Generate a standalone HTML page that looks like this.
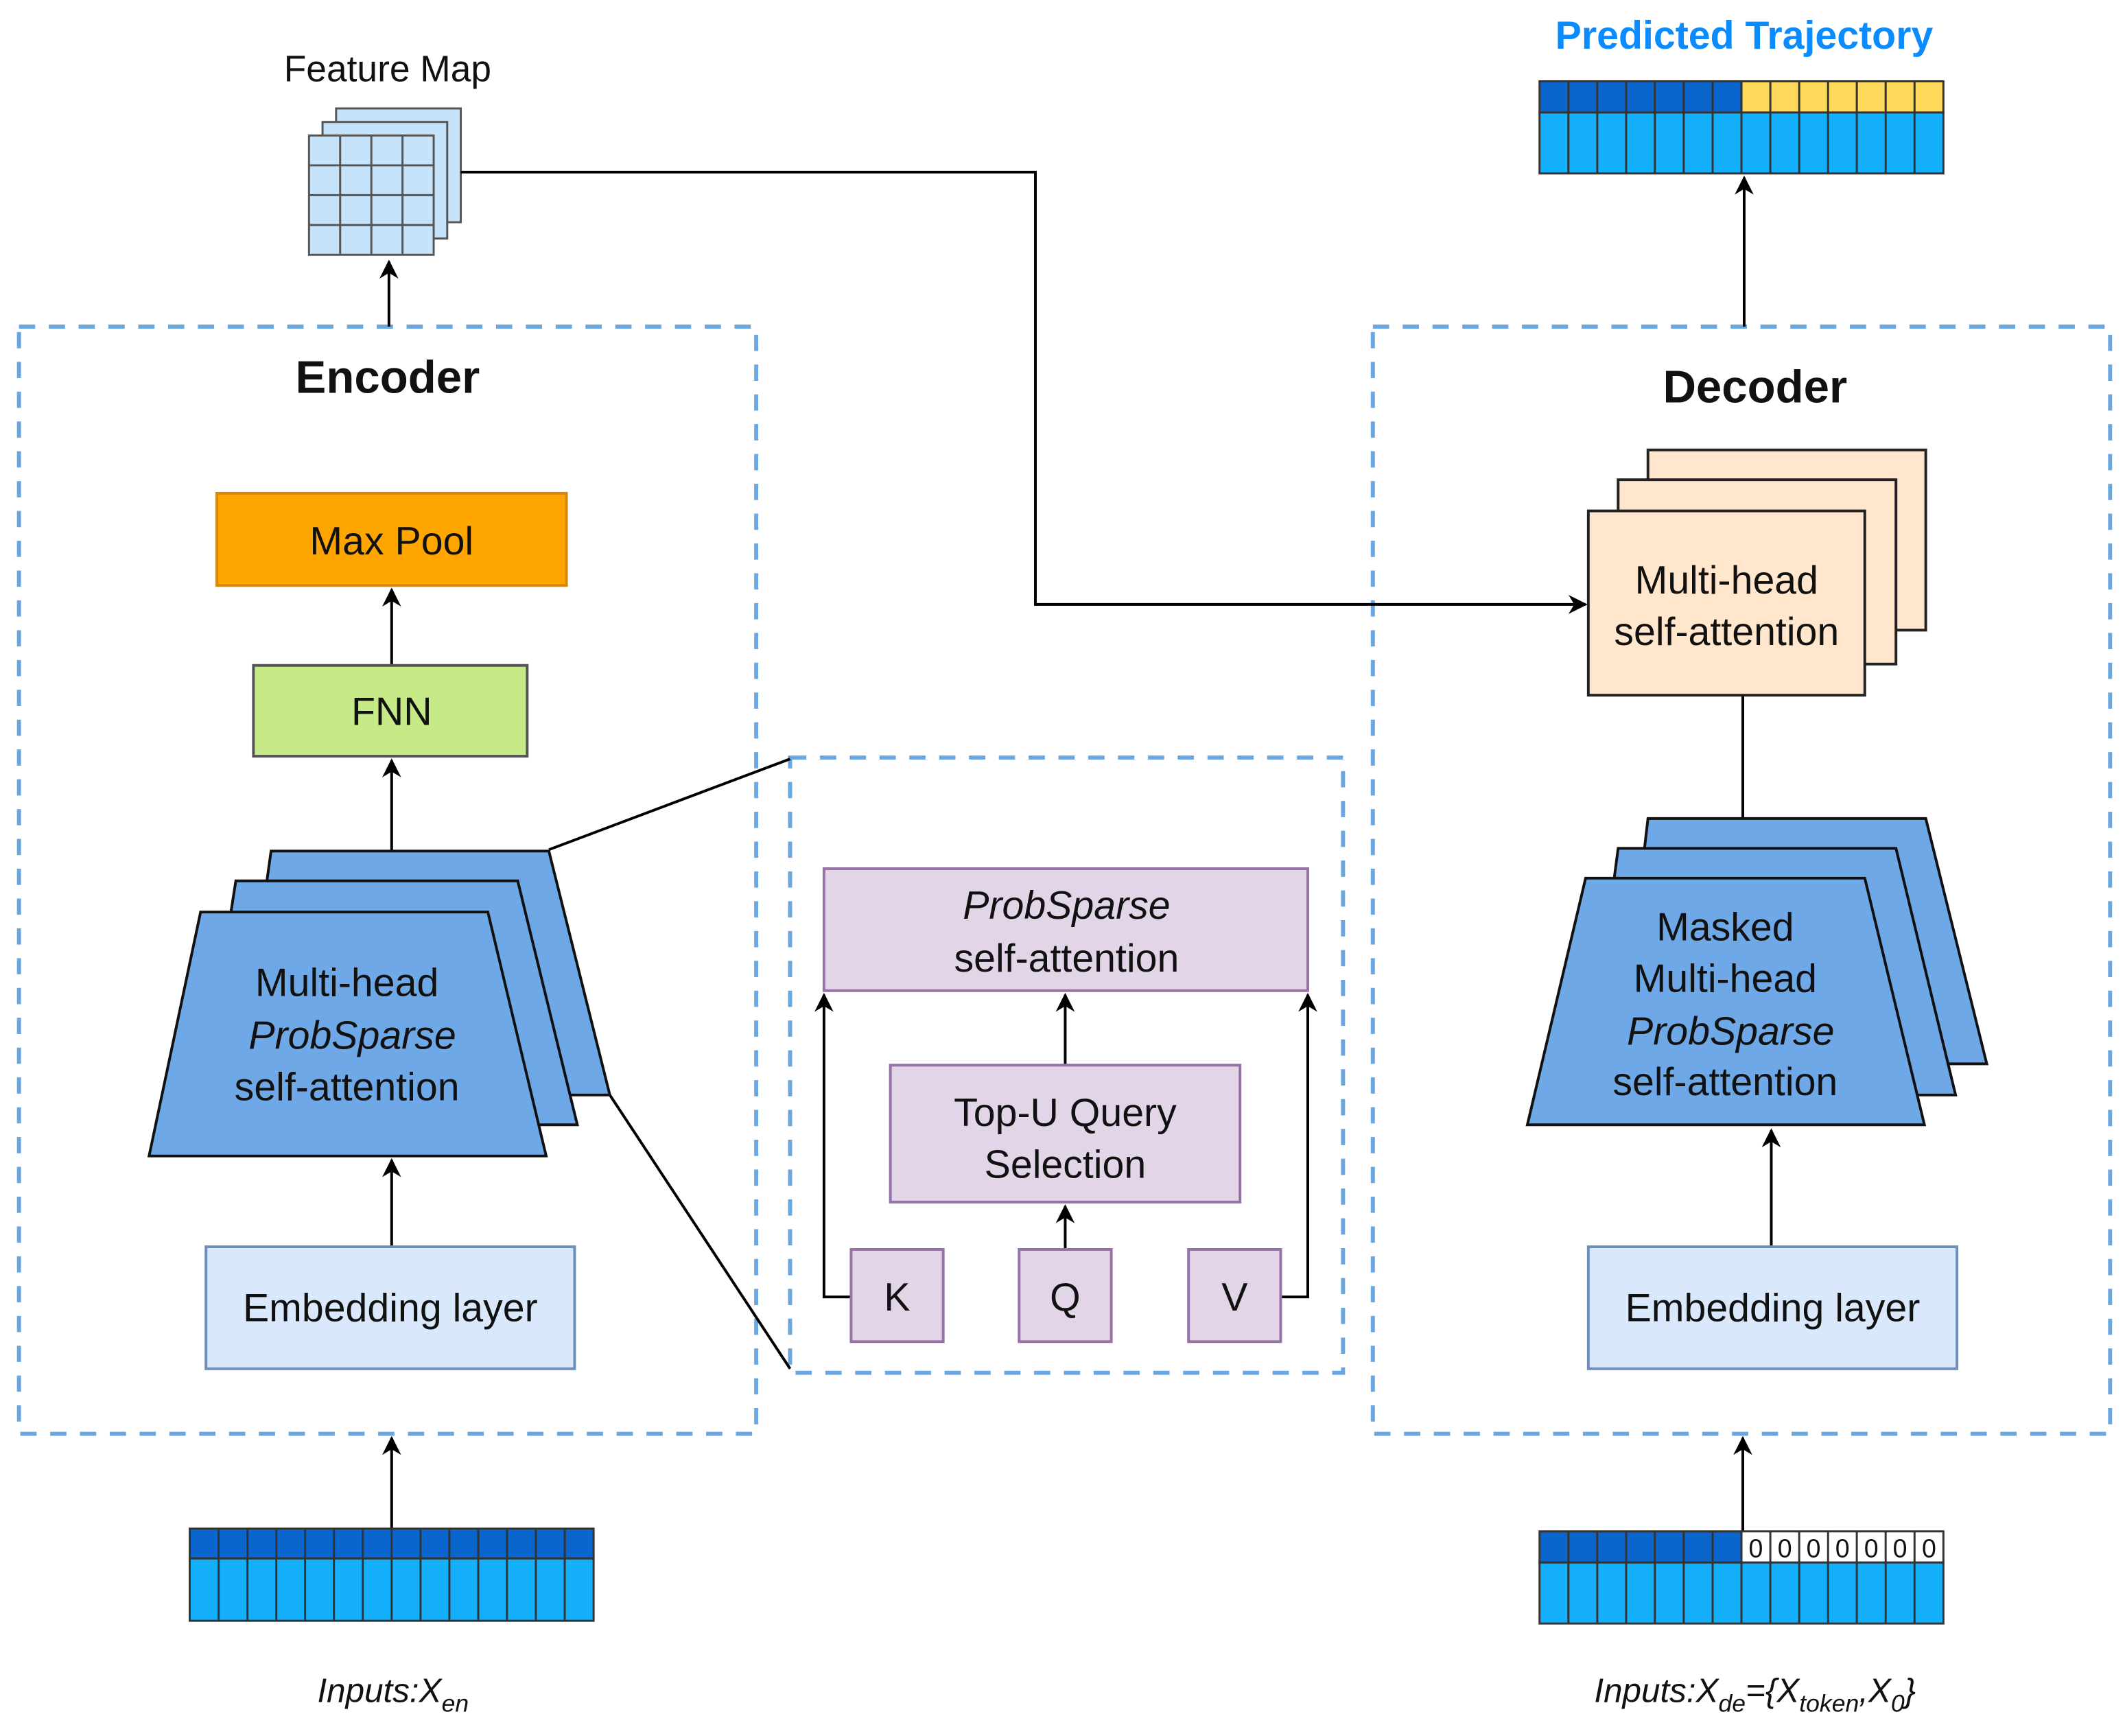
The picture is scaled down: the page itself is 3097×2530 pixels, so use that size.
<!DOCTYPE html>
<html><head><meta charset="utf-8"><style>
html,body{margin:0;padding:0;background:#fff;}
svg{display:block;}
text{font-family:"Liberation Sans",Arial,sans-serif;fill:#111;}
</style></head><body>
<svg width="3097" height="2530" viewBox="0 0 1568 1281" preserveAspectRatio="none" xmlns="http://www.w3.org/2000/svg">
<defs>
<marker id="ar" viewBox="0 0 10 10" refX="9" refY="5" markerWidth="7" markerHeight="7" orient="auto-start-reverse" markerUnits="userSpaceOnUse">
<path d="M0,0 L10,5 L0,10 L3,5 z" fill="#000"/>
</marker>
<marker id="ar2" viewBox="0 0 10 10" refX="9" refY="5" markerWidth="14" markerHeight="14" orient="auto" markerUnits="userSpaceOnUse">
<path d="M0,0 L10,5 L0,10 L3,5 z" fill="#000"/>
</marker>
</defs>
<rect width="1568" height="1281" fill="#fff"/>

<!-- dashed containers -->
<g fill="none" stroke="#6aa6e0" stroke-width="3" stroke-dasharray="12,10">
<rect x="14" y="241" width="544" height="817"/>
<rect x="583" y="559" width="408" height="454"/>
<rect x="1013" y="241" width="544" height="817"/>
</g>

<!-- Feature map -->
<text x="286" y="60" font-size="27" text-anchor="middle" fill="#222">Feature Map</text>
<g stroke="#555" stroke-width="1.5" fill="#c5e4fb">
<rect x="248" y="80" width="92" height="84"/>
<rect x="238" y="90" width="92" height="86"/>
<rect x="228" y="100" width="92" height="88"/>
<path d="M251,100 V188 M274,100 V188 M297,100 V188 M228,122 H320 M228,144 H320 M228,166 H320" fill="none"/>
</g>

<!-- connectors -->
<g stroke="#000" stroke-width="2" fill="none">
<path d="M340,127 H764 V446 H1170" marker-end="url(#ar2)"/>
<path d="M287,241 V193" marker-end="url(#ar2)"/>
<path d="M289,920 V856" marker-end="url(#ar2)"/>
<path d="M289,628 V561" marker-end="url(#ar2)"/>
<path d="M289,491 V435" marker-end="url(#ar2)"/>
<path d="M289,1128 V1061" marker-end="url(#ar2)"/>
<path d="M405,627 L583,560"/>
<path d="M450,808 L583,1010"/>
<path d="M628,957 H608 V734" marker-end="url(#ar2)"/>
<path d="M945,957 H965 V734" marker-end="url(#ar2)"/>
<path d="M786,922 V890" marker-end="url(#ar2)"/>
<path d="M786,786 V734" marker-end="url(#ar2)"/>
<path d="M1286,513 V604"/>
<path d="M1307,920 V834" marker-end="url(#ar2)"/>
<path d="M1286,1130 V1061" marker-end="url(#ar2)"/>
<path d="M1287,241 V131" marker-end="url(#ar2)"/>
</g>

<!-- Encoder -->
<text x="286" y="290" font-size="34" font-weight="bold" text-anchor="middle">Encoder</text>
<rect x="160" y="364" width="258" height="68" fill="#ffa500" stroke="#d9870a" stroke-width="2"/>
<text x="289" y="409" font-size="29" text-anchor="middle">Max Pool</text>
<rect x="187" y="491" width="202" height="67" fill="#c6ea88" stroke="#555" stroke-width="2"/>
<text x="289" y="535" font-size="29" text-anchor="middle">FNN</text>
<g fill="#6ea8e6" stroke="#111" stroke-width="2">
<polygon points="200,628 405,628 450,808 175,808"/>
<polygon points="174,650 382,650 426,830 146,830"/>
<polygon points="148,673 360,673 403,853 110,853"/>
</g>
<text x="256" y="735" font-size="29" text-anchor="middle">Multi-head</text>
<text x="260" y="774" font-size="29" text-anchor="middle" font-style="italic">ProbSparse</text>
<text x="256" y="812" font-size="29" text-anchor="middle">self-attention</text>
<rect x="152" y="920" width="272" height="90" fill="#dae8fc" stroke="#6c8ebf" stroke-width="2"/>
<text x="288" y="975" font-size="29" text-anchor="middle">Embedding layer</text>

<!-- encoder input -->
<g stroke="#333" stroke-width="1.5">
<rect x="140" y="1128" width="298" height="22" fill="#0a66cc"/>
<rect x="140" y="1150" width="298" height="46" fill="#15b0fb"/>
<path d="M161.3,1128 V1196 M182.6,1128 V1196 M203.9,1128 V1196 M225.1,1128 V1196 M246.4,1128 V1196 M267.7,1128 V1196 M289,1128 V1196 M310.3,1128 V1196 M331.6,1128 V1196 M352.9,1128 V1196 M374.1,1128 V1196 M395.4,1128 V1196 M416.7,1128 V1196"/>
</g>
<text x="290" y="1256" font-size="25" text-anchor="middle" font-style="italic" fill="#333">Inputs:X<tspan font-size="18" dy="7">en</tspan></text>

<!-- middle detail -->
<g fill="#e1d5e7" stroke="#9673a6" stroke-width="2">
<rect x="608" y="641" width="357" height="90"/>
<rect x="657" y="786" width="258" height="101"/>
<rect x="628" y="922" width="68" height="68"/>
<rect x="752" y="922" width="68" height="68"/>
<rect x="877" y="922" width="68" height="68"/>
</g>
<text x="787" y="678" font-size="29" text-anchor="middle" font-style="italic">ProbSparse</text>
<text x="787" y="717" font-size="29" text-anchor="middle">self-attention</text>
<text x="786" y="831" font-size="29" text-anchor="middle">Top-U Query</text>
<text x="786" y="869" font-size="29" text-anchor="middle">Selection</text>
<text x="662" y="967" font-size="29" text-anchor="middle">K</text>
<text x="786" y="967" font-size="29" text-anchor="middle">Q</text>
<text x="911" y="967" font-size="29" text-anchor="middle">V</text>

<!-- Decoder -->
<text x="1295" y="297" font-size="34" font-weight="bold" text-anchor="middle">Decoder</text>
<g fill="#ffe6cc" stroke="#222" stroke-width="2">
<rect x="1216" y="332" width="205" height="133"/>
<rect x="1194" y="354" width="205" height="136"/>
<rect x="1172" y="377" width="204" height="136"/>
</g>
<text x="1274" y="438" font-size="29" text-anchor="middle">Multi-head</text>
<text x="1274" y="476" font-size="29" text-anchor="middle">self-attention</text>
<g fill="#6ea8e6" stroke="#111" stroke-width="2">
<polygon points="1216,604 1421,604 1466,785 1195,785"/>
<polygon points="1194,626 1399,626 1443,808 1170,808"/>
<polygon points="1170,648 1376,648 1420,830 1127,830"/>
</g>
<text x="1273" y="694" font-size="29" text-anchor="middle">Masked</text>
<text x="1273" y="732" font-size="29" text-anchor="middle">Multi-head</text>
<text x="1277" y="771" font-size="29" text-anchor="middle" font-style="italic">ProbSparse</text>
<text x="1273" y="808" font-size="29" text-anchor="middle">self-attention</text>
<rect x="1172" y="920" width="272" height="90" fill="#dae8fc" stroke="#6c8ebf" stroke-width="2"/>
<text x="1308" y="975" font-size="29" text-anchor="middle">Embedding layer</text>

<!-- decoder input -->
<g stroke="#333" stroke-width="1.5">
<rect x="1136" y="1130" width="149" height="23" fill="#0a66cc"/>
<rect x="1285" y="1130" width="149" height="23" fill="#fff"/>
<rect x="1136" y="1153" width="298" height="45" fill="#15b0fb"/>
<path d="M1157.3,1130 V1198 M1178.6,1130 V1198 M1199.9,1130 V1198 M1221.1,1130 V1198 M1242.4,1130 V1198 M1263.7,1130 V1198 M1285,1130 V1198 M1306.3,1130 V1198 M1327.6,1130 V1198 M1348.9,1130 V1198 M1370.1,1130 V1198 M1391.4,1130 V1198 M1412.7,1130 V1198"/>
</g>
<g font-size="19" text-anchor="middle" fill="#222">
<text x="1295.6" y="1149">0</text><text x="1317" y="1149">0</text><text x="1338.2" y="1149">0</text><text x="1359.5" y="1149">0</text><text x="1380.8" y="1149">0</text><text x="1402" y="1149">0</text><text x="1423.4" y="1149">0</text>
</g>
<text x="1295" y="1256" font-size="25" text-anchor="middle" font-style="italic" fill="#333">Inputs:X<tspan font-size="18" dy="7">de</tspan><tspan dy="-7">={X</tspan><tspan font-size="18" dy="7">token</tspan><tspan dy="-7">,X</tspan><tspan font-size="18" dy="7">0</tspan><tspan dy="-7">}</tspan></text>

<!-- predicted trajectory -->
<text x="1287" y="36" font-size="29" font-weight="bold" text-anchor="middle" fill="#0a8cff" style="fill:#0a8cff">Predicted Trajectory</text>
<g stroke="#333" stroke-width="1.5">
<rect x="1136" y="60" width="149" height="23" fill="#0a66cc"/>
<rect x="1285" y="60" width="149" height="23" fill="#ffd95c"/>
<rect x="1136" y="83" width="298" height="45" fill="#15b0fb"/>
<path d="M1157.3,60 V128 M1178.6,60 V128 M1199.9,60 V128 M1221.1,60 V128 M1242.4,60 V128 M1263.7,60 V128 M1285,60 V128 M1306.3,60 V128 M1327.6,60 V128 M1348.9,60 V128 M1370.1,60 V128 M1391.4,60 V128 M1412.7,60 V128"/>
</g>
</svg>
</body></html>
